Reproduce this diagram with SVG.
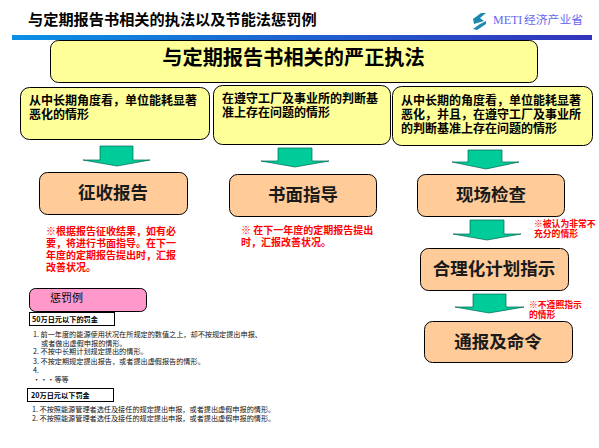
<svg xmlns="http://www.w3.org/2000/svg" width="599" height="448" viewBox="0 0 599 448">
<style>
text{font-family:"Noto Sans CJK SC","Liberation Sans",sans-serif;fill:#000}
.y{fill:#ffff99;stroke:#000;stroke-width:1}
.o{fill:#ffcc99;stroke:#000;stroke-width:1}
.a{fill:#00cc99;stroke:#006650;stroke-width:.7}
.b12{font-size:12px;font-weight:700}
.big{font-size:17.5px;font-weight:700;text-anchor:middle;fill:#1a1a1a}
.r{font-size:10px;font-weight:700;fill:#ff0000}
.s{font-size:8.8px;font-weight:700;fill:#ff0000}
.l{font-size:7.15px;fill:#111}
.f{font-size:7.2px;font-weight:700}
</style>
<defs>
<linearGradient id="bar" x1="0" x2="1" y1="0" y2="0"><stop offset="0" stop-color="#0a90e6"/><stop offset="1" stop-color="#3333bb"/></linearGradient>
</defs>
<rect width="599" height="448" fill="#fff"/>
<g id="header">
<text x="28" y="25" font-size="15.2" font-weight="700">与定期报告书相关的执法以及节能法惩罚例</text>
<rect x="12" y="35" width="580" height="5" fill="url(#bar)"/>
</g>
<g id="logo">
<path d="M473 19l8-6h5l-6 5 4 3-10 3zM486 21v3l-9 6-4-1 7-5z" fill="#1f88b0"/>
<text x="493" y="24" font-size="12" style="font-family:'Liberation Serif','Noto Sans CJK SC',serif;fill:#6666ee">METI</text>
<text x="524" y="24" font-size="11.8" style="fill:#6666ee">经济产业省</text>
</g>
<g id="connectors">
<path class="a" d="M100 146h33v14h17l-33 6-34-6h17z"/>
<path class="a" d="M278 148h34v13h17l-34 6-34-6h17z"/>
<path class="a" d="M468 150h34v12h17l-33 7-34-7h16z"/>
<path class="a" d="M470 220h34v14h17l-34 6-34-6h17z"/>
<path class="a" d="M473 294h33v13h18l-35 6-34-6h18z"/>
</g>
<g id="main"><rect class="y" x="50.500" y="40.500" width="487" height="42" rx="8"/>
<text x="293.500" y="65" font-size="20.200" font-weight="700" text-anchor="middle" fill="#111">与定期报告书相关的严正执法</text></g>
<g id="case1"><rect class="y" x="20.500" y="87.500" width="189" height="52" rx="9"/>
<text class="b12" x="29" y="105">从中长期角度看，单位能耗显著</text>
<text class="b12" x="29" y="119">恶化的情形</text></g>
<g id="case2"><rect class="y" x="213.500" y="85.500" width="177" height="59" rx="9"/>
<text class="b12" x="222" y="103">在遵守工厂及事业所的判断基</text>
<text class="b12" x="222" y="117">准上存在问题的情形</text></g>
<g id="case3"><rect class="y" x="392.500" y="86.500" width="200" height="59" rx="9"/>
<text class="b12" x="401" y="105">从中长期的角度看，单位能耗显著</text>
<text class="b12" x="401" y="119">恶化，并且，在遵守工厂及事业所</text>
<text class="b12" x="401" y="133">的判断基准上存在问题的情形</text></g>
<g id="collect"><rect class="o" x="39.500" y="172.500" width="148" height="42" rx="8"/>
<text class="big" x="113" y="199">征收报告</text></g>
<g id="written"><rect class="o" x="229.500" y="174.500" width="147" height="42" rx="8"/>
<text class="big" x="303" y="201">书面指导</text></g>
<g id="inspect"><rect class="o" x="417.500" y="174.500" width="147" height="42" rx="8"/>
<text class="big" x="491" y="201">现场检查</text></g>
<g id="plan"><rect class="o" x="420.500" y="248.500" width="148" height="42" rx="8"/>
<text class="big" x="494" y="275">合理化计划指示</text></g>
<g id="order"><rect class="o" x="424.500" y="321.500" width="148" height="41" rx="8"/>
<text class="big" x="498" y="348">通报及命令</text></g>
<g id="notes">
<text class="r" x="46" y="235">※根据报告征收结果，如有必</text>
<text class="r" x="46" y="247">要，将进行书面指导。在下一</text>
<text class="r" x="46" y="259">年度的定期报告提出时，汇报</text>
<text class="r" x="46" y="271">改善状况。</text>
<text class="r" x="241" y="234">※ 在下一年度的定期报告提出</text>
<text class="r" x="241" y="246">时，汇报改善状况。</text>
<text class="s" x="534" y="227">※被认为非常不</text>
<text class="s" x="534" y="237">充分的情形</text>
<text class="s" x="529" y="308">※不遵照指示</text>
<text class="s" x="529" y="318">的情形</text>
</g>
<g id="penalty"><rect x="29.500" y="288.500" width="117" height="23" rx="6" fill="#ff99cc" stroke="#000"/>
<text x="50" y="302" font-size="11" fill="#333">惩罚例</text></g>
<g id="fine50"><rect x="29.500" y="312.500" width="85" height="13" fill="#fff" stroke="#000"/>
<text class="f" x="32" y="322">50万日元以下的罚金</text>
<text class="l" x="33" y="337">1. 前一年度的能源使用状况在所规定的数值之上，却不按规定提出申报、</text>
<text class="l" x="41" y="345.500">或者做出虚假申报的情形。</text>
<text class="l" x="33" y="354">2. 不按中长期计划规定提出的情形。</text>
<text class="l" x="33" y="364">3. 不按定期规定提出报告，或者提出虚假报告的情形。</text>
<text class="l" x="33" y="373">4.</text>
<text class="l" x="33" y="381.500">・・・等等</text></g>
<g id="fine20"><rect x="27.500" y="388.500" width="86" height="13" fill="#fff" stroke="#000"/>
<text class="f" x="31" y="398">20万日元以下罚金</text>
<text class="l" x="32" y="412">1. 不按照能源管理者选任及接任的规定提出申报，或者提出虚假申报的情形。</text>
<text class="l" x="32" y="420.500">2. 不按照能源管理者选任及接任的规定提出申报，或者提出虚假申报的情形。</text></g>
</svg>
